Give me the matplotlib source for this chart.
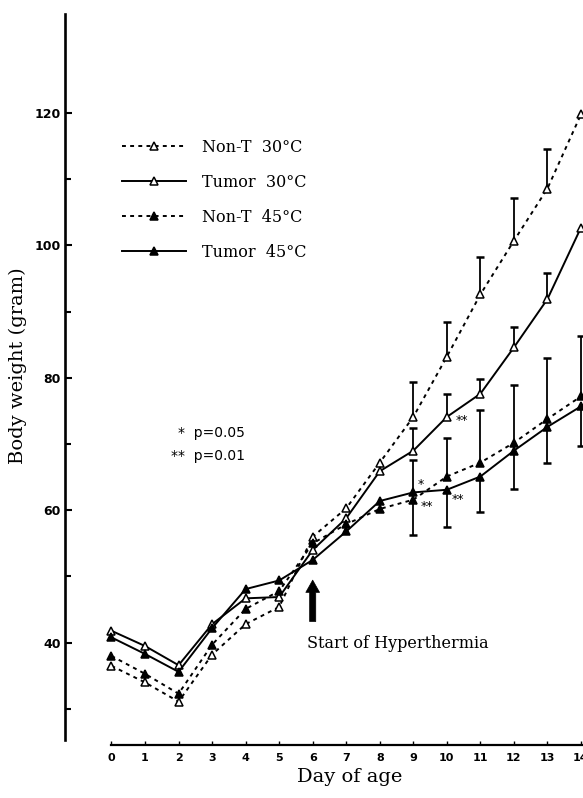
import numpy as np
import matplotlib
matplotlib.use("Agg")
import matplotlib.pyplot as plt

# ---- data ----
days = [0, 1, 2, 3, 4, 5, 6, 7, 8, 9, 10, 11, 12, 13, 14]
nont_30 = [36.5, 34.0, 31.1, 38.2, 42.8, 45.4, 56.0, 60.3, 67.2, 74.1, 83.2, 92.6, 100.7, 108.6, 119.8]
tumor_30 = [41.8, 39.5, 36.6, 42.8, 46.7, 46.9, 54.0, 58.8, 65.9, 69.0, 74.1, 77.6, 84.6, 91.9, 102.7]
nont_45 = [38.0, 35.3, 32.3, 39.7, 45.1, 47.8, 55.0, 57.9, 60.2, 61.6, 65.1, 67.2, 70.2, 73.8, 77.2]
tumor_45 = [40.8, 38.3, 35.6, 42.2, 48.1, 49.4, 52.5, 56.8, 61.4, 62.7, 63.1, 65.1, 69.0, 72.6, 75.7]

# one-sided SD bars
err_days_open = [9, 10, 11, 12, 13]
nont_30_up = [5.3, 5.3, 5.6, 6.4, 5.9]
tumor_30_up = [3.5, 3.5, 2.3, 3.1, 3.9]
err_days_filled = [9, 10, 11, 12, 13, 14]
nont_45_up = [6.0, 5.8, 7.9, 8.7, 9.2, 9.1]
tumor_45_down = [6.4, 5.6, 5.4, 5.8, 5.4, 6.0]

labels = ["Non-T  30°C", "Tumor  30°C", "Non-T  45°C", "Tumor  45°C"]
y_major = [40, 60, 80, 100, 120]
y_minor = [30, 50, 70, 90, 110]
x_ticks = list(range(15))

SERIF = "DejaVu Serif"
SANS = "DejaVu Sans"

fig = plt.figure(figsize=(5.83, 7.98), dpi=100)
ax = fig.add_axes([65 / 583, 53 / 798, 1 - 65 / 583, 1 - 53 / 798])
ax.set_xlim(-1.386, 14.06)
ax.set_ylim(24.55, 137.07)

dash = (0, (2.0, 2.2))
lw = 1.4
ms = 5.2
common = dict(color="black", lw=lw, ms=ms, mew=1.1, mec="black", zorder=3)

l1, = ax.plot(days, nont_30, ls=dash, marker="^", mfc="white", **common)
l2, = ax.plot(days, tumor_30, ls="-", marker="^", mfc="white", **common)
l3, = ax.plot(days, nont_45, ls=dash, marker="^", mfc="black", **common)
l4, = ax.plot(days, tumor_45, ls="-", marker="^", mfc="black", **common)


def upbar(xs, series, up):
    ys = np.array([series[d] for d in xs])
    top = ys + np.array(up)
    ax.vlines(xs, ys, top, color="black", lw=1.3, zorder=2)
    ax.plot(xs, top, ls="none", marker="_", ms=6, mew=1.8, color="black", zorder=2)


def downbar(xs, series, down):
    ys = np.array([series[d] for d in xs])
    bot = ys - np.array(down)
    ax.vlines(xs, bot, ys, color="black", lw=1.3, zorder=2)
    ax.plot(xs, bot, ls="none", marker="_", ms=6, mew=1.8, color="black", zorder=2)


upbar(err_days_open, nont_30, nont_30_up)
upbar(err_days_open, tumor_30, tumor_30_up)
upbar(err_days_filled, nont_45, nont_45_up)
downbar(err_days_filled, tumor_45, tumor_45_down)

# significance marks
ax.text(9.22, tumor_45[9] + 1.2, "*", fontsize=9, family=SANS, ha="center", va="center")
ax.text(9.40, nont_45[9] - 1.0, "**", fontsize=9, family=SANS, ha="center", va="center")
ax.text(10.44, tumor_30[10] - 0.5, "**", fontsize=9, family=SANS, ha="center", va="center")
ax.text(10.34, tumor_45[10] - 1.4, "**", fontsize=9, family=SANS, ha="center", va="center")

# spines
for s in ["top", "right"]:
    ax.spines[s].set_visible(False)
ax.spines["left"].set_bounds(25.3, 135)
ax.spines["left"].set_linewidth(1.9)
ax.spines["bottom"].set_bounds(0, 14.06)
ax.spines["bottom"].set_linewidth(1.6)

ax.set_yticks(y_major)
ax.set_yticks(y_minor, minor=True)
ax.set_yticklabels([str(v) for v in y_major], family=SANS, fontsize=9, fontweight="bold")
ax.set_xticks(x_ticks)
ax.set_xticklabels([str(v) for v in x_ticks], family=SANS, fontsize=8, fontweight="bold")
ax.tick_params(axis="y", which="major", direction="in", length=5, width=1.5, pad=3)
ax.tick_params(axis="y", which="minor", direction="in", length=4, width=1.5)
ax.tick_params(axis="x", which="major", direction="in", length=3, width=1.0, pad=6)

fig.text(350 / 583, 1 - 777 / 798, "Day of age", family=SERIF, fontsize=14,
         ha="center", va="center")
fig.text(18 / 583, 1 - 366 / 798, "Body weight (gram)", family=SERIF, fontsize=14,
         ha="center", va="center", rotation=90)

# legend
leg = ax.legend([l1, l2, l3, l4], labels, loc="upper left",
                bbox_to_anchor=(122 / 583, 1 - 139 / 798), bbox_transform=fig.transFigure,
                frameon=False, borderpad=0, borderaxespad=0, handlelength=4.0,
                handletextpad=1.0, labelspacing=1.12,
                prop={"family": SERIF, "size": 11.5})

# p-value note
fig.text(245 / 583, 1 - 433 / 798, "*  p=0.05", family=SANS, fontsize=10,
         ha="right", va="center")
fig.text(245 / 583, 1 - 456 / 798, "**  p=0.01", family=SANS, fontsize=10,
         ha="right", va="center")

# hyperthermia arrow
ax.annotate("", xy=(6, 49.45), xytext=(6, 43.2),
            arrowprops=dict(arrowstyle="simple,head_length=0.8,head_width=0.9,tail_width=0.4",
                            mutation_scale=11, fc="black", ec="black", lw=0.5,
                            shrinkA=0, shrinkB=0))
ax.text(5.82, 39.86, "Start of Hyperthermia", family=SERIF, fontsize=11.5,
        ha="left", va="center")

fig.savefig("out.png", dpi=100)
